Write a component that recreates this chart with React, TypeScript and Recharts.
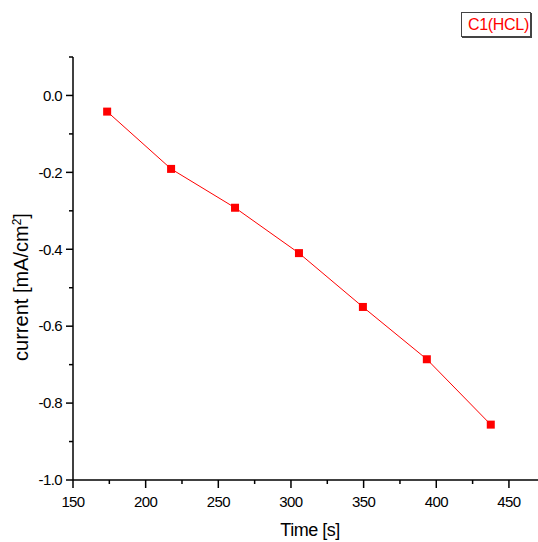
import React from 'react';
import { LineChart, Line, XAxis, YAxis } from 'recharts';

// values
const times = [173.5, 217.5, 261.5, 305.5, 349.5, 393.5, 437.5];
const currents = [-0.042, -0.191, -0.292, -0.41, -0.55, -0.686, -0.856];
const xTicks = [150, 175, 200, 225, 250, 275, 300, 325, 350, 375, 400, 425, 450];
const yTicks = [0.1, 0, -0.1, -0.2, -0.3, -0.4, -0.5, -0.6, -0.7, -0.8, -0.9, -1.0];
const seriesName = 'C1(HCL)';

const data = times.map((t, i) => ({ time: t, current: currents[i] }));

const RED = '#ff0000';
const FONT = '"Liberation Sans", Arial, sans-serif';

function XTick(props: any) {
  const { x, y, payload } = props;
  const major = payload.value % 50 === 0;
  return (
    <g>
      <line x1={x} y1={y} x2={x} y2={y + (major ? 8 : 4)} stroke="#000" strokeWidth={1.5} />
      {major && (
        <text x={x} y={y + 27} textAnchor="middle" fontSize={15} letterSpacing={-0.6} fill="#000" fontFamily={FONT}>
          {payload.value}
        </text>
      )}
    </g>
  );
}

function YTick(props: any) {
  const { x, y, payload } = props;
  const major = Math.round(payload.value * 10) % 2 === 0;
  return (
    <g>
      <line x1={x - (major ? 7 : 4)} y1={y} x2={x} y2={y} stroke="#000" strokeWidth={1.5} />
      {major && (
        <text x={x - 11} y={y} dy="0.35em" textAnchor="end" fontSize={15} letterSpacing={-0.6} fill="#000" fontFamily={FONT}>
          {Math.abs(payload.value) < 1e-9 ? '0.0' : payload.value.toFixed(1)}
        </text>
      )}
    </g>
  );
}

function SquareDot(props: any) {
  const { cx, cy } = props;
  if (cx == null || cy == null) return null;
  return <rect x={cx - 4} y={cy - 4} width={8} height={8} fill={RED} />;
}

export default function App() {
  return (
    <div style={{ position: 'absolute', left: 0, top: 0, width: 538, height: 542, background: '#fff', fontFamily: FONT, overflow: 'hidden' }}>
      <LineChart width={538} height={542} data={data} margin={{ top: 57, right: 0, bottom: 0, left: 0 }}>
        <XAxis
          type="number"
          dataKey="time"
          domain={[150, 470]}
          ticks={xTicks}
          interval={0}
          tickLine={false}
          tickSize={0}
          tickMargin={0}
          height={62}
          axisLine={{ stroke: '#000', strokeWidth: 1.5 }}
          tick={<XTick />}
        />
        <YAxis
          type="number"
          domain={[-1.0, 0.1]}
          ticks={yTicks}
          interval={0}
          tickLine={false}
          tickSize={0}
          tickMargin={0}
          width={73}
          axisLine={{ stroke: '#000', strokeWidth: 1.5 }}
          tick={<YTick />}
        />
        <Line
          type="linear"
          dataKey="current"
          name={seriesName}
          stroke={RED}
          strokeWidth={1}
          dot={<SquareDot />}
          activeDot={false}
          isAnimationActive={false}
        />
      </LineChart>
      <div
        style={{
          position: 'absolute',
          left: 21,
          top: 287,
          transform: 'translate(-50%, -50%) rotate(-90deg)',
          fontSize: 20,
          whiteSpace: 'nowrap',
          color: '#000',
          lineHeight: 1,
        }}
      >
        current [mA/cm<sup style={{ fontSize: 12 }}>2</sup>]
      </div>
      <div
        style={{
          position: 'absolute',
          left: 310,
          top: 521,
          transform: 'translateX(-50%)',
          fontSize: 18,
          letterSpacing: -0.5,
          whiteSpace: 'nowrap',
          color: '#000',
          lineHeight: 1,
        }}
      >
        Time [s]
      </div>
      <div
        style={{
          position: 'absolute',
          left: 461,
          top: 12,
          width: 67,
          height: 23,
          border: '1px solid #444',
          boxShadow: '1px 1px 0 #444',
          color: RED,
          fontSize: 16,
          letterSpacing: -0.3,
          lineHeight: '23px',
          textAlign: 'right',
          paddingRight: 1,
          boxSizing: 'content-box',
          whiteSpace: 'nowrap',
        }}
      >
        {seriesName}
      </div>
    </div>
  );
}
